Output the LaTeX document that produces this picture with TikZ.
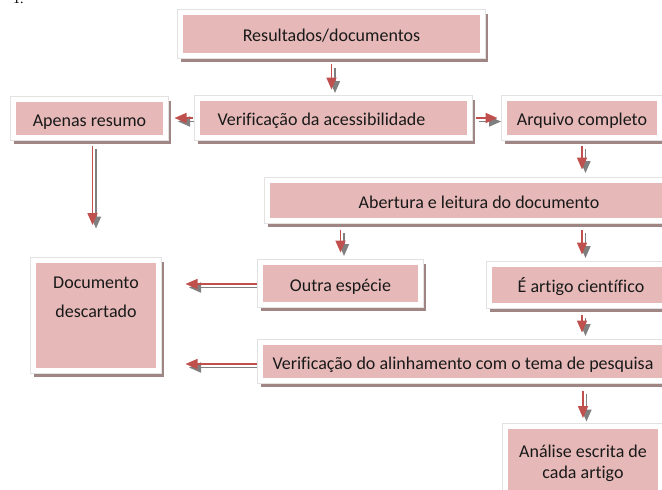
\documentclass[tikz,border=0pt]{standalone}
\usepackage{fontspec}
\setmainfont{Carlito}[Ligatures=NoCommon]
\newfontfamily\serifone{Liberation Serif}
\usetikzlibrary{arrows.meta}
\definecolor{pinkc}{HTML}{E6B9B8}
\definecolor{redc}{HTML}{C0504D}
\definecolor{greyc}{HTML}{7F7F7F}
\definecolor{shadc}{HTML}{A08585}
\definecolor{framec}{HTML}{E2E2E2}
\pgfdeclarelayer{background}
\pgfdeclarelayer{paper}
\pgfsetlayers{paper,background,main}
\newcommand\myconn[3][]{%
  \draw[arrshadow,#1] #2 -- #3;
  \draw[arrmain,#1] #2 -- #3;}
\begin{document}
\begin{tikzpicture}[x=1pt,y=-1pt,
  box/.style={
    preaction={fill=shadc, draw=shadc, line width=5pt, transform canvas={xshift=2.5pt,yshift=-4pt}},
    preaction={draw=framec, line width=7pt},
    fill=pinkc, draw=white, line width=5pt, inner sep=0pt,
    font=\fontsize{18}{20}\selectfont, text=black!90, align=center},
  onel/.style={text height=15pt, text depth=0pt},
  lbl/.style={font=\fontsize{18}{20}\selectfont, text=black!90, align=center, inner sep=0pt},
  arrmain/.style={draw=redc, line width=1.7pt, -{Triangle[length=12pt,width=10pt]}},
  arrshadow/.style={draw=greyc, line width=1.7pt, -{Triangle[length=12pt,width=10pt]},
    transform canvas={xshift=3.5pt,yshift=-3.5pt}}]
\clip (0,0) rectangle (662,490);
\begin{pgfonlayer}{paper}
\fill[white] (0,0) rectangle (662,490);
\end{pgfonlayer}

\node[anchor=base west, font=\serifone\fontsize{14}{14}\selectfont, inner sep=0pt] (num) at (13,3) {1.};

\node[box, onel, minimum width=302, minimum height=43] (res) at (331.5,34) {Resultados/documentos};
\node[box, onel, minimum width=272, minimum height=39] (ver) at (333.5,118) {\hspace*{-24pt}Verificação da acessibilidade};
\node[box, onel, minimum width=152, minimum height=38] (ape) at (89.5,118.5) {Apenas resumo};
\node[box, onel, minimum width=155, minimum height=39] (arq) at (582,118) {Arquivo completo};
\node[box, onel, minimum width=423, minimum height=40] (abe) at (479,200.5) {Abertura e leitura do documento};
\node[box, onel, minimum width=160, minimum height=42] (out) at (340.5,283.5) {Outra espécie};
\node[box, onel, minimum width=183, minimum height=41] (art) at (581,285) {É artigo científico};
\node[box, minimum width=125, minimum height=110] (doc) at (96,315.5) {};
\node[lbl, font=\fontsize{18}{29}\selectfont] (doctext) at (96,297.5) {Documento\\descartado};
\node[box, onel, minimum width=405, minimum height=38] (ali) at (463,361.5) {Verificação do alinhamento com o tema de pesquisa};
\node[box, minimum width=155, minimum height=74, font=\fontsize{18}{21}\selectfont] (ana) at (583,463) {Análise escrita de\\cada artigo};

\begin{pgfonlayer}{background}
\myconn[shorten <=6pt, shorten >=6.5pt]{(res.south)}{(res.south |- ver.north)}
\myconn[shorten <=2.5pt, shorten >=6.5pt]{(ver.west)}{(ver.west -| ape.east)}
\myconn[shorten <=3.5pt, shorten >=4.5pt]{(ver.east)}{(ver.east -| arq.west)}
\myconn[shorten <=5.5pt, shorten >=33pt]{([xshift=3pt]ape.south)}{([xshift=3pt]ape.south |- doc.north)}
\myconn[shorten <=5.5pt, shorten >=8.5pt]{(arq.south)}{(arq.south |- abe.north)}
\myconn[shorten <=6.5pt, shorten >=7.5pt]{(out.north |- abe.south)}{(out.north)}
\myconn[shorten <=6.5pt, shorten >=7.5pt]{([xshift=1pt]art.north |- abe.south)}{([xshift=1pt]art.north)}
\myconn[shorten <=0pt, shorten >=24.5pt]{([yshift=-0.5pt]out.west)}{([yshift=-0.5pt]out.west -| doc.east)}
\myconn[shorten <=0pt, shorten >=24.5pt]{([yshift=-2.5pt]ali.west)}{([yshift=-2.5pt]ali.west -| doc.east)}
\myconn[shorten <=6.5pt, shorten >=7.5pt]{([xshift=1pt]art.south)}{([xshift=1pt]art.south |- ali.north)}
\myconn[shorten <=7.5pt, shorten >=5.5pt]{(ana.north |- ali.south)}{(ana.north)}
\end{pgfonlayer}
\end{tikzpicture}
\end{document}
